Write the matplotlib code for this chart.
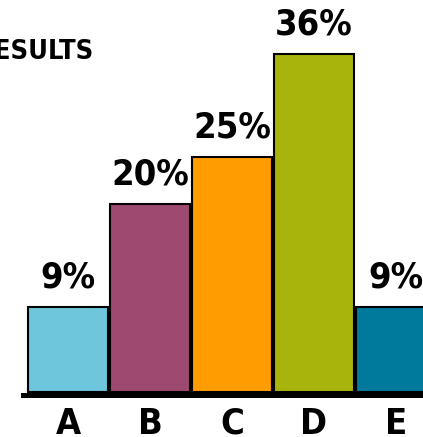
import matplotlib
matplotlib.use("Agg")
import matplotlib.pyplot as plt

categories = ["A", "B", "C", "D", "E"]
values = [9, 20, 25, 36, 9]
colors = ["#6EC6DD", "#9E4A70", "#FF9C00", "#A8B40C", "#007A9C"]

plt.rcParams['font.family'] = ['DejaVu Sans']
plt.rcParams['font.stretch'] = 'condensed'

fig = plt.figure(figsize=(4.23, 4.37), dpi=100)
ax = fig.add_axes([23 / 423, (437 - 394.5) / 437, 400 / 423, 394.5 / 437])

x = range(len(categories))
ax.bar(x, values, width=80 / 82, color=colors, edgecolor="black", linewidth=1.5, clip_on=False)

for i, v in enumerate(values):
    ax.annotate(f"{v}%", (i, v), xytext=(0, 9), textcoords="offset points",
                ha="center", va="bottom", fontsize=26, fontweight="bold",
                fontstretch="condensed")

ax.set_xlim(-0.549, 4.33)
ax.set_ylim(-0.27, 41.7)
ax.set_xticks(list(x))
ax.set_xticklabels(categories, fontsize=26, fontweight="bold", fontstretch="condensed")
ax.tick_params(axis="x", length=0, pad=9)
ax.set_yticks([])
for side in ["top", "left", "right"]:
    ax.spines[side].set_visible(False)
ax.spines["bottom"].set_linewidth(3.6)

fig.text(94 / 423, 1 - 52 / 437, "RESULTS", ha="right", va="center",
         fontsize=19.5, fontweight="bold", fontstretch="condensed")

fig.savefig("out.png", dpi=100)
